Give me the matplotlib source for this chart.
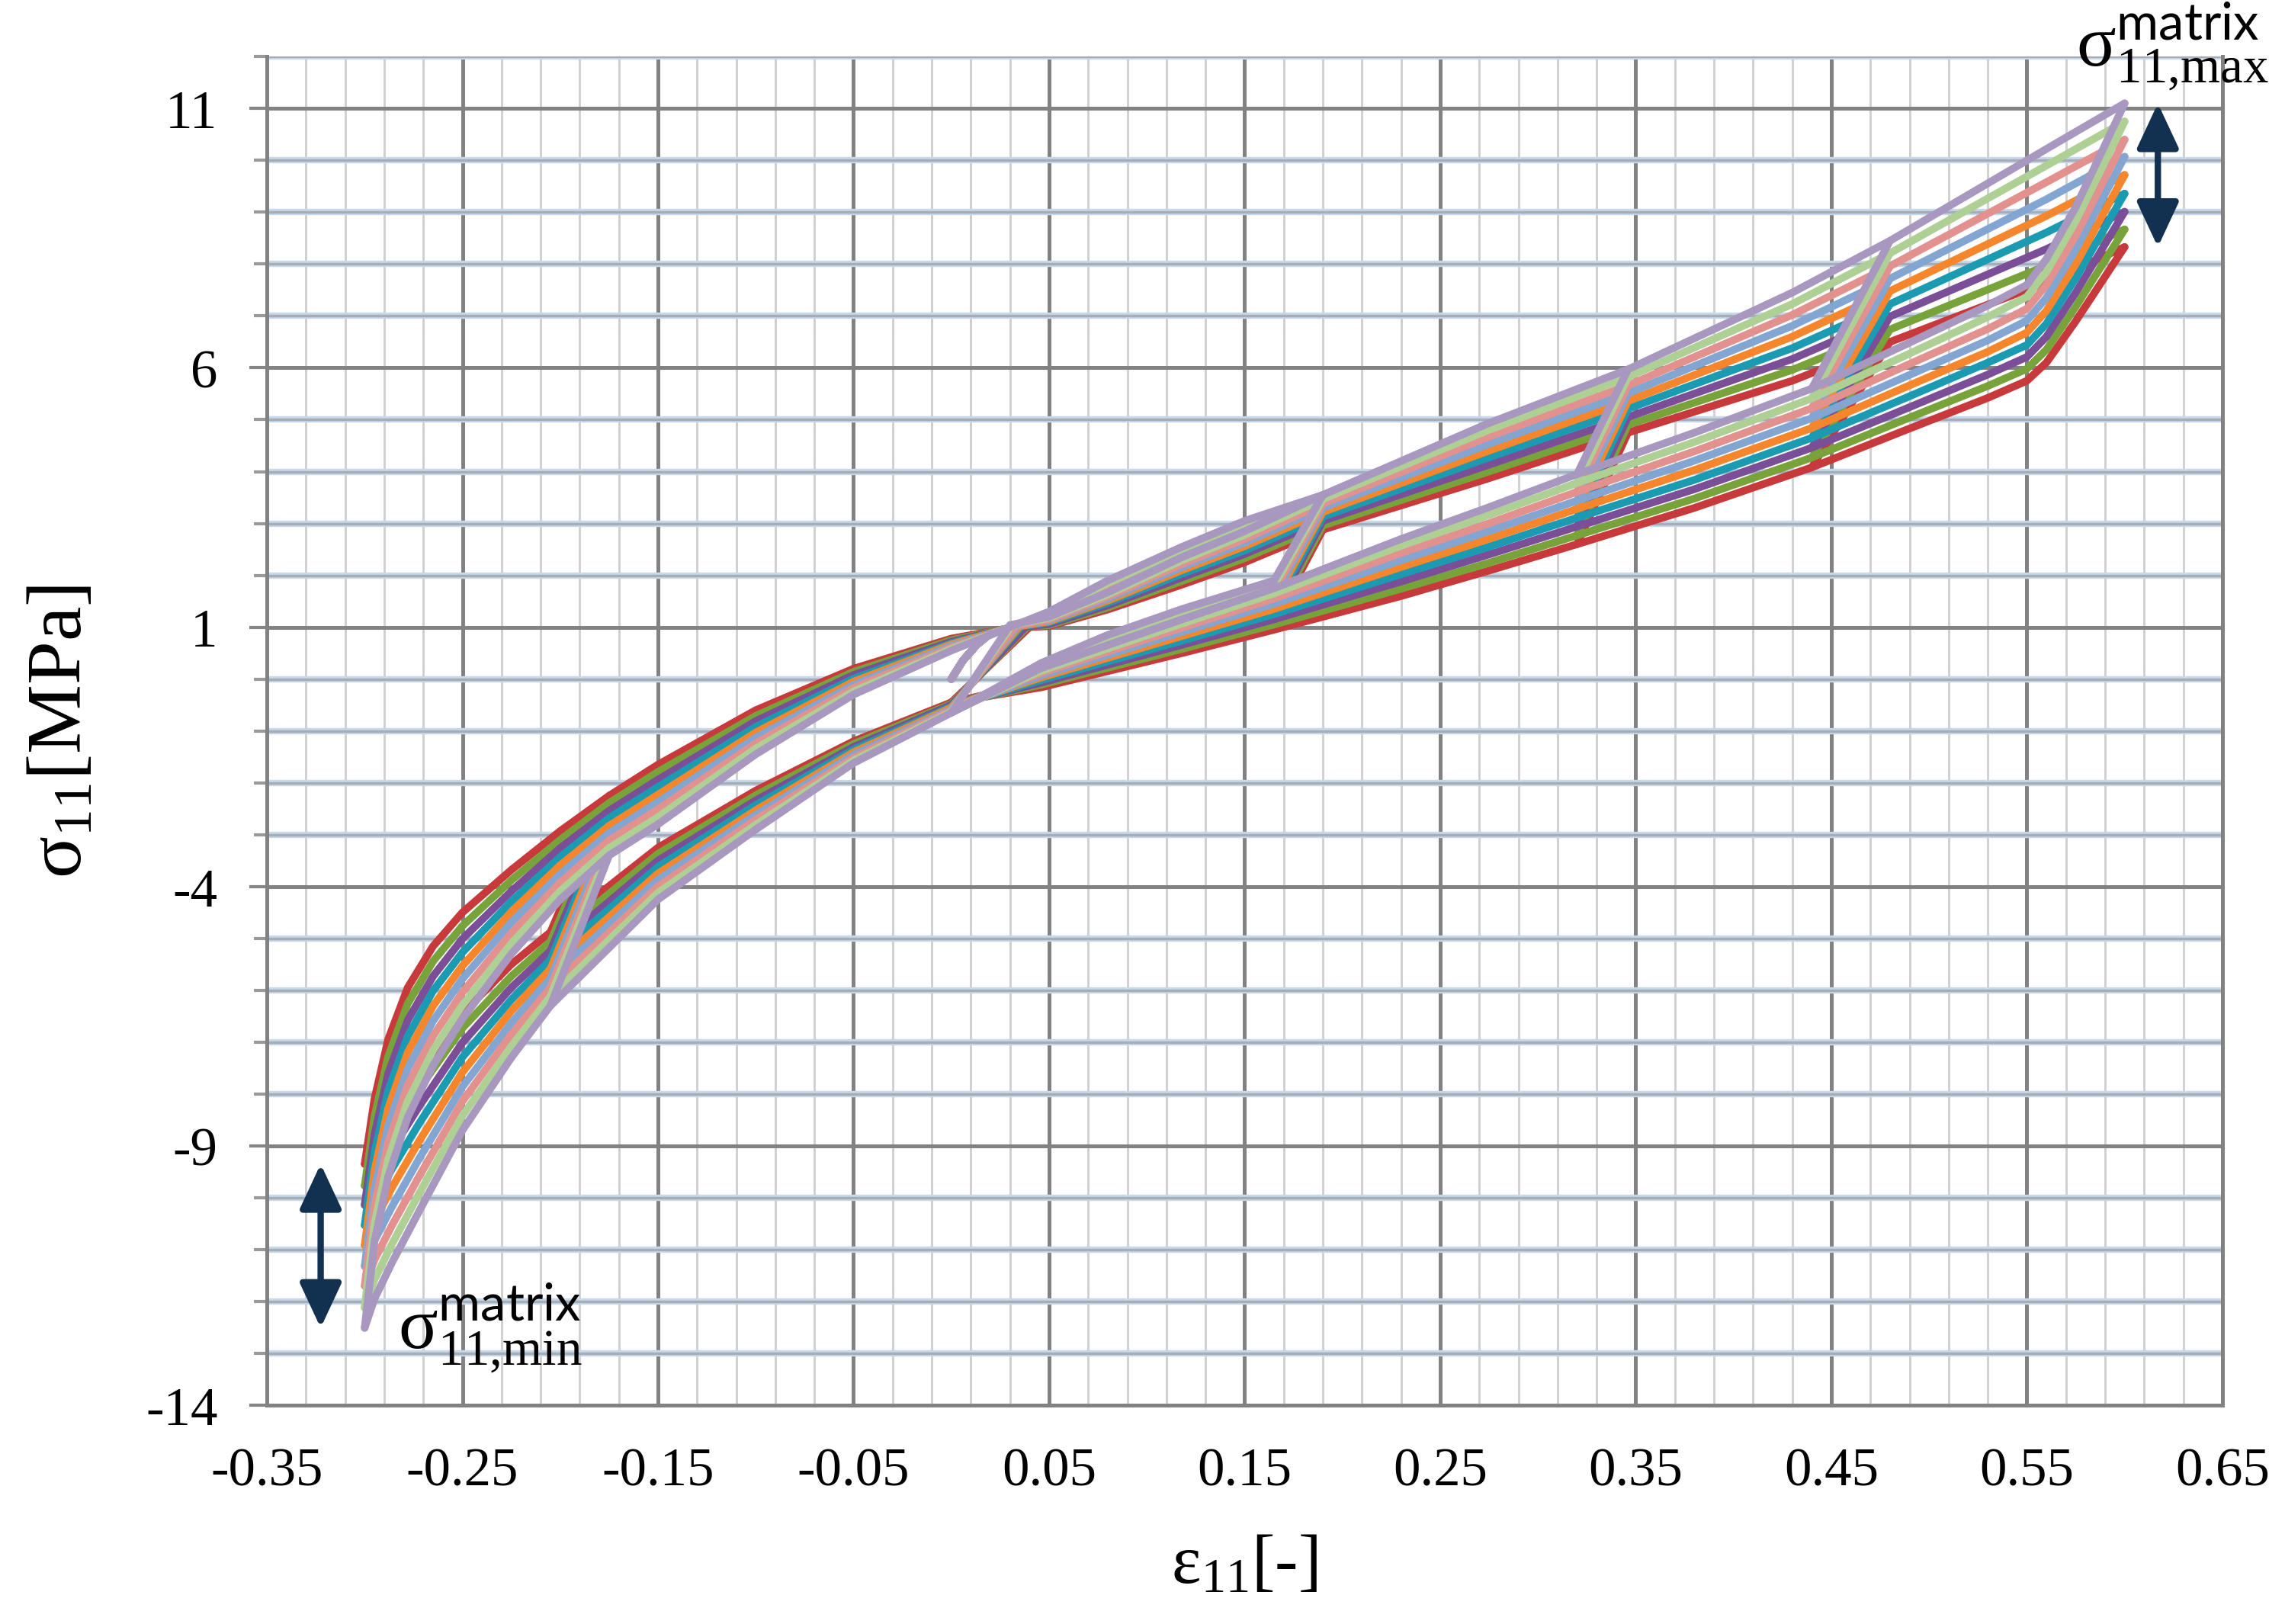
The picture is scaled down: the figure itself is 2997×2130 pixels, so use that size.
import matplotlib
matplotlib.use("Agg")
import matplotlib.pyplot as plt

# ========== DATA ==========

series_colors = ["#C8393B", "#77A33A", "#7B4E98", "#1A9BB2", "#F5862B",
                 "#82A5D2", "#E3918F", "#AFD094", "#A898C0"]

# upper branch (strain decreasing): from tension tip back to compression tip
x_up = [0.600, 0.560, 0.480, 0.430, 0.346, 0.274, 0.190, 0.150, 0.118, 0.080, 0.050, 0.000,
        -0.050, -0.100, -0.150, -0.175, -0.200, -0.225, -0.250, -0.265, -0.278, -0.288, -0.295, -0.300]
y_up = [
    [8.33, 7.65, 6.50, 5.75, 4.75, 3.86, 2.88, 2.43, 2.02, 1.52, 1.12, 0.78, 0.20, -0.60, -1.65, -2.25, -2.93, -3.68, -4.50, -5.15, -5.95, -6.95, -8.10, -9.35],
    [8.67, 7.97, 6.74, 5.96, 4.90, 3.99, 2.96, 2.51, 2.09, 1.57, 1.14, 0.75, 0.14, -0.71, -1.79, -2.39, -3.10, -3.88, -4.76, -5.44, -6.26, -7.28, -8.44, -9.77],
    [9.01, 8.29, 6.99, 6.17, 5.05, 4.12, 3.05, 2.59, 2.16, 1.62, 1.16, 0.72, 0.08, -0.81, -1.94, -2.54, -3.26, -4.09, -5.01, -5.73, -6.58, -7.61, -8.79, -10.14],
    [9.36, 8.61, 7.23, 6.38, 5.21, 4.26, 3.13, 2.67, 2.23, 1.67, 1.19, 0.69, 0.01, -0.92, -2.08, -2.68, -3.43, -4.29, -5.27, -6.01, -6.89, -7.94, -9.13, -10.53],
    [9.72, 8.93, 7.48, 6.60, 5.36, 4.39, 3.22, 2.74, 2.30, 1.71, 1.21, 0.67, -0.05, -1.03, -2.23, -2.83, -3.59, -4.49, -5.53, -6.30, -7.20, -8.28, -9.48, -10.92],
    [10.07, 9.25, 7.72, 6.81, 5.51, 4.52, 3.30, 2.82, 2.36, 1.76, 1.23, 0.64, -0.11, -1.13, -2.37, -2.97, -3.76, -4.69, -5.78, -6.59, -7.51, -8.61, -9.82, -11.32],
    [10.40, 9.58, 7.96, 7.02, 5.66, 4.66, 3.38, 2.90, 2.42, 1.81, 1.25, 0.61, -0.17, -1.24, -2.51, -3.11, -3.92, -4.90, -6.04, -6.88, -7.83, -8.94, -10.16, -11.70],
    [10.75, 9.90, 8.21, 7.23, 5.82, 4.79, 3.47, 2.97, 2.49, 1.85, 1.28, 0.58, -0.24, -1.34, -2.66, -3.26, -4.09, -5.10, -6.29, -7.16, -8.14, -9.27, -10.51, -12.12],
    [11.10, 10.22, 8.45, 7.45, 5.97, 4.92, 3.55, 3.05, 2.55, 1.90, 1.30, 0.55, -0.30, -1.45, -2.80, -3.40, -4.25, -5.30, -6.55, -7.45, -8.45, -9.60, -10.85, -12.51],
]

# lower branch (strain increasing): from compression tip up to tension tip
x_lo = [-0.300, -0.295, -0.286, -0.272, -0.250, -0.225, -0.205, -0.150, -0.100, -0.050,
        0.000, 0.046, 0.118, 0.165, 0.230, 0.274, 0.320, 0.380, 0.440, 0.488,
        0.530, 0.550, 0.560, 0.575, 0.600]
y_lo = [
    [-9.35, -8.95, -8.35, -7.55, -6.45, -5.50, -4.88, -3.25, -2.15, -1.20, -0.45, -0.16, 0.50, 0.95, 1.60, 2.08, 2.60, 3.30, 4.08, 4.80, 5.42, 5.75, 6.10, 6.90, 8.33],
    [-9.77, -9.33, -8.71, -7.89, -6.73, -5.73, -5.06, -3.37, -2.24, -1.25, -0.48, -0.11, 0.58, 1.05, 1.74, 2.23, 2.77, 3.48, 4.27, 5.01, 5.65, 5.98, 6.35, 7.18, 8.67],
    [-10.14, -9.70, -9.07, -8.23, -7.01, -5.95, -5.24, -3.50, -2.34, -1.31, -0.50, -0.07, 0.66, 1.15, 1.88, 2.39, 2.94, 3.66, 4.46, 5.21, 5.87, 6.21, 6.60, 7.45, 9.01],
    [-10.53, -10.08, -9.44, -8.56, -7.29, -6.18, -5.41, -3.62, -2.43, -1.36, -0.53, -0.02, 0.74, 1.25, 2.02, 2.54, 3.11, 3.84, 4.65, 5.42, 6.10, 6.44, 6.85, 7.73, 9.36],
    [-10.92, -10.45, -9.80, -8.90, -7.58, -6.40, -5.59, -3.75, -2.53, -1.41, -0.55, 0.03, 0.83, 1.35, 2.16, 2.69, 3.28, 4.03, 4.84, 5.63, 6.31, 6.68, 7.10, 8.00, 9.72],
    [-11.32, -10.83, -10.17, -9.24, -7.86, -6.63, -5.77, -3.87, -2.62, -1.46, -0.58, 0.07, 0.91, 1.45, 2.29, 2.84, 3.44, 4.21, 5.03, 5.83, 6.53, 6.91, 7.35, 8.28, 10.07],
    [-11.70, -11.20, -10.53, -9.58, -8.14, -6.85, -5.95, -4.00, -2.71, -1.52, -0.60, 0.12, 0.99, 1.55, 2.43, 2.99, 3.61, 4.39, 5.22, 6.04, 6.75, 7.14, 7.60, 8.55, 10.40],
    [-12.12, -11.58, -10.89, -9.91, -8.42, -7.08, -6.12, -4.12, -2.81, -1.57, -0.63, 0.16, 1.07, 1.65, 2.57, 3.15, 3.78, 4.57, 5.41, 6.24, 6.98, 7.37, 7.85, 8.83, 10.75],
    [-12.51, -11.95, -11.25, -10.25, -8.70, -7.30, -6.30, -4.25, -2.90, -1.62, -0.65, 0.21, 1.15, 1.75, 2.70, 3.30, 3.95, 4.75, 5.60, 6.45, 7.20, 7.60, 8.10, 9.10, 11.10],
]

# small partial cycle up to 0.19: its own loading and unloading paths
x_p1_load = [0.000, 0.046, 0.080, 0.118, 0.165]
y_p1_load = [
    [-0.45, -0.06, 0.35, 0.70, 1.10],
    [-0.48, -0.01, 0.42, 0.78, 1.20],
    [-0.50, 0.03, 0.47, 0.86, 1.30],
    [-0.53, 0.08, 0.54, 0.94, 1.40],
    [-0.55, 0.13, 0.61, 1.03, 1.50],
    [-0.58, 0.17, 0.67, 1.11, 1.60],
    [-0.60, 0.22, 0.73, 1.19, 1.70],
    [-0.63, 0.26, 0.79, 1.27, 1.80],
    [-0.65, 0.31, 0.85, 1.35, 1.90],
]
x_p1_unload = [0.190, 0.150, 0.118, 0.080, 0.050]
y_p1_unload = [
    [2.88, 2.25, 1.82, 1.34, 1.02],
    [2.96, 2.33, 1.89, 1.38, 1.04],
    [3.05, 2.41, 1.96, 1.42, 1.06],
    [3.13, 2.48, 2.03, 1.47, 1.09],
    [3.22, 2.56, 2.10, 1.51, 1.11],
    [3.30, 2.63, 2.16, 1.55, 1.13],
    [3.38, 2.70, 2.22, 1.59, 1.15],
    [3.47, 2.78, 2.29, 1.63, 1.18],
    [3.55, 2.85, 2.35, 1.67, 1.20],
]

# steep reversals of the larger partial cycles: (x on lower branch, x on upper branch)
tension_reversals = [(0.320, 0.346), (0.440, 0.480)]
compression_reversal = (-0.175, -0.205)   # (upper, lower)

# drop near zero strain: start point on the upper branch, per series
drop_top_x = [0.040, 0.039, 0.038, 0.036, 0.035, 0.034, 0.033, 0.031, 0.030]
drop_top_y = [1.00, 1.01, 1.01, 1.02, 1.02, 1.03, 1.03, 1.04, 1.04]

# final unloading hook back to zero
hook_x = [0.020, 0.013, 0.006, 0.000]
hook_y = [0.88, 0.66, 0.36, 0.00]

x_major = [-0.35, -0.25, -0.15, -0.05, 0.05, 0.15, 0.25, 0.35, 0.45, 0.55, 0.65]
x_labels = ["-0.35", "-0.25", "-0.15", "-0.05", "0.05", "0.15", "0.25", "0.35", "0.45", "0.55", "0.65"]
y_major = [-14, -9, -4, 1, 6, 11]
y_labels = ["-14", "-9", "-4", "1", "6", "11"]

# ========== STYLE ==========

plt.rcParams["font.family"] = ["Liberation Serif", "DejaVu Serif"]
plt.rcParams["mathtext.fontset"] = "custom"
plt.rcParams["mathtext.rm"] = "Liberation Serif"
plt.rcParams["mathtext.it"] = "Liberation Serif:italic"
plt.rcParams["mathtext.sf"] = "Lato"
plt.rcParams["axes.unicode_minus"] = False

fig = plt.figure(figsize=(9.99, 7.103), dpi=300)
ax = fig.add_axes([0.1168, 0.1347, 0.8558, 0.8300])

# ========== CURVES ==========

for c, col in enumerate(series_colors):
    kw = dict(color=col, lw=2.4, solid_joinstyle="round", solid_capstyle="round", zorder=3)
    # main loop
    ax.plot(x_lo, y_lo[c], **kw)
    ax.plot(x_up, y_up[c], **kw)
    # partial cycle to 0.19
    ax.plot(x_p1_load, y_p1_load[c], **kw)
    ax.plot([x_p1_load[-1], x_p1_unload[0]], [y_p1_load[c][-1], y_p1_unload[c][0]], **kw)
    ax.plot(x_p1_unload + [drop_top_x[c]], y_p1_unload[c] + [drop_top_y[c]], **kw)
    # larger partial cycles
    for a, b in tension_reversals:
        ax.plot([a, b], [y_lo[c][x_lo.index(a)], y_up[c][x_up.index(b)]], **kw)
    a, b = compression_reversal
    ax.plot([a, b], [y_up[c][x_up.index(a)], y_lo[c][x_lo.index(b)]], **kw)
    ax.plot([drop_top_x[c], 0.0], [drop_top_y[c], y_lo[c][x_lo.index(0.0)]], **kw)
    ax.plot(hook_x, hook_y, **kw)

# ========== AXES / GRID ==========

ax.set_xlim(-0.35, 0.65)
ax.set_ylim(-14, 12)
ax.set_xticks(x_major)
ax.set_xticklabels(x_labels)
ax.set_xticks([-0.35 + 0.02 * i for i in range(51)], minor=True)
ax.set_yticks(y_major)
ax.set_yticklabels(y_labels)
y_minor = list(range(-14, 13))
ax.set_yticks(y_minor, minor=True)

ax.set_axisbelow(True)
ax.grid(which="major", axis="x", color="#828282", lw=1.2)
ax.grid(which="minor", axis="x", color="#d0d0d0", lw=0.7)
ax.grid(which="major", axis="y", color="#828282", lw=1.2)
for y in y_minor:
    if y not in y_major:
        ax.axhline(y, color="#c6d8ec", lw=2.0, zorder=0.6)
        ax.axhline(y, color="#a7adb5", lw=0.8, zorder=0.7)

for side in ["left", "bottom", "right"]:
    ax.spines[side].set_color("#828282")
    ax.spines[side].set_linewidth(1.2)
ax.spines["top"].set_visible(False)

ax.tick_params(axis="x", which="both", length=0, pad=13, labelsize=17)
ax.tick_params(axis="y", which="major", length=5.5, width=1.0, color="#868686", pad=10, labelsize=17)
ax.tick_params(axis="y", which="minor", length=4, width=1.0, color="#9a9a9a")

ax.set_xlabel("ε$_{11}$[-]", fontsize=22, labelpad=12)
ax.set_ylabel("σ$_{11}$[MPa]", fontsize=24.5, labelpad=15)

# ========== ANNOTATIONS ==========

tops = [row[0] for row in y_up]
bottoms = [row[0] for row in y_lo]
arrow = dict(arrowstyle="<|-|>,head_length=0.6,head_width=0.28", color="#12304F",
             lw=2.0, mutation_scale=20, shrinkA=0, shrinkB=0)
ax.annotate("", xy=(0.617, max(tops)), xytext=(0.617, min(tops)), arrowprops=arrow,
            annotation_clip=False)
ax.annotate("", xy=(-0.3225, max(bottoms)), xytext=(-0.3225, min(bottoms)), arrowprops=arrow,
            annotation_clip=False)

ax.text(0.575, 11.83, r"σ$^{\mathsf{matrix}}_{\text{11,max}}$", fontsize=23,
        ha="left", va="baseline", clip_on=False)
ax.text(-0.283, -12.91, r"σ$^{\mathsf{matrix}}_{\text{11,min}}$", fontsize=23,
        ha="left", va="baseline", clip_on=False)

plt.savefig("out.png", dpi=300)
